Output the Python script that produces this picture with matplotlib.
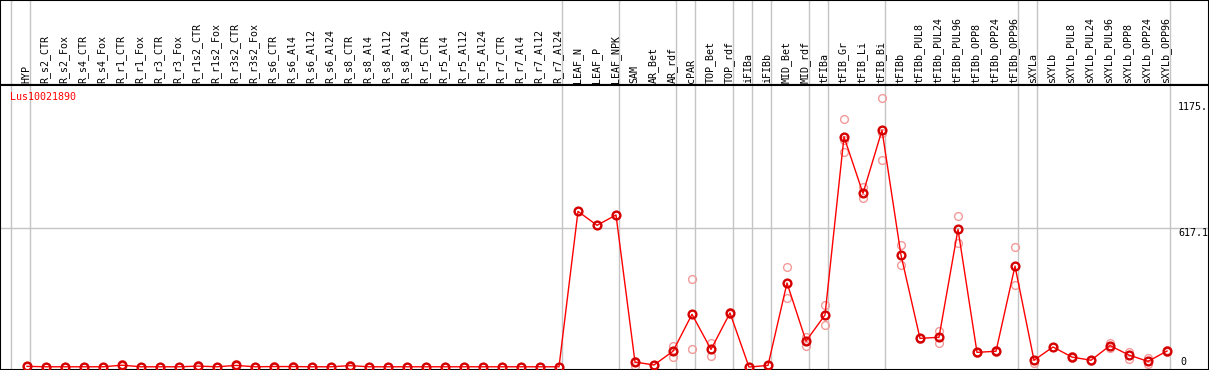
import numpy as np
import matplotlib
matplotlib.use("Agg")
import matplotlib.pyplot as plt
import matplotlib.transforms as mtransforms

plt.rcParams['font.family'] = ['DejaVu Sans Mono']

# samples (x axis, top labels)
samples = [
    "HYP",
    "R_s2_CTR", "R_s2_Fox", "R_s4_CTR", "R_s4_Fox",
    "R_r1_CTR", "R_r1_Fox", "R_r3_CTR", "R_r3_Fox",
    "R_r1s2_CTR", "R_r1s2_Fox", "R_r3s2_CTR", "R_r3s2_Fox",
    "R_s6_CTR", "R_s6_Al4", "R_s6_Al12", "R_s6_Al24",
    "R_s8_CTR", "R_s8_Al4", "R_s8_Al12", "R_s8_Al24",
    "R_r5_CTR", "R_r5_Al4", "R_r5_Al12", "R_r5_Al24",
    "R_r7_CTR", "R_r7_Al4", "R_r7_Al12", "R_r7_Al24",
    "LEAF_N", "LEAF_P", "LEAF_NPK",
    "SAM", "AR_Bet", "AR_rdf", "cPAR", "TOP_Bet", "TOP_rdf",
    "iFIBa", "iFIBb", "MID_Bet", "MID_rdf", "tFIBa",
    "tFIB_Gr", "tFIB_Li", "tFIB_Bi", "tFIBb",
    "tFIBb_PUL8", "tFIBb_PUL24", "tFIBb_PUL96",
    "tFIBb_OPP8", "tFIBb_OPP24", "tFIBb_OPP96",
    "sXYLa", "sXYLb",
    "sXYLb_PUL8", "sXYLb_PUL24", "sXYLb_PUL96",
    "sXYLb_OPP8", "sXYLb_OPP24", "sXYLb_OPP96",
]

# mean expression (red line)
means = [
    3, 1, 1, 1, 1, 8, 1, 1, 1, 4, 1, 7, 1,
    2, 2, 1, 1, 6, 1, 1, 1, 1, 1, 1, 1, 1, 1, 1, 1,
    691, 629, 675,
    22, 9, 70, 234, 78, 240,
    0, 7, 373, 115, 231,
    1022, 771, 1051, 497,
    127, 132, 611,
    65, 70, 448,
    30, 89,
    44, 30, 95,
    53, 25, 71,
]

# replicate values (pink circles)
reps = [
    [5, 1], [2, 0], [1, 0], [1, 0], [1, 0], [14, 3], [1, 0], [1, 0], [1, 0],
    [8, 1], [1, 0], [12, 3], [1, 0],
    [3, 1], [3, 1], [1, 0], [1, 0], [10, 2], [1, 0], [1, 0], [1, 0],
    [1, 0], [1, 0], [1, 0], [1, 0], [1, 0], [1, 0], [1, 0], [1, 0],
    [691], [629], [675],
    [25, 5], [9, 9], [95, 46], [391, 78], [105, 50], [245, 235],
    [0, 0], [10, 4], [443, 305], [135, 95], [275, 188],
    [1100, 953, 1010], [798, 749], [1193, 918, 1040], [542, 451],
    [130, 125], [161, 105], [669, 549],
    [68, 62], [74, 66], [531, 364],
    [30, 16], [89, 89],
    [48, 40], [32, 28], [105, 83],
    [68, 34], [40, 13], [74, 68],
]

# last sample index of each group (gray separators)
group_ends = [-1, 0, 28, 31, 34, 35, 37, 38, 39, 41, 42, 45, 52, 53, 60]

gene = "Lus10021890"
y_ticks = [0, 617.1, 1175]
y_tick_labels = ["0", "617.1", "1175."]

W, H = 1209, 370
top_h = 85
fig = plt.figure(figsize=(W / 100, H / 100), dpi=100)
ax_lab = fig.add_axes([0, (H - top_h) / H, 1, top_h / H])
ax = fig.add_axes([0, 0, 1, (H - top_h) / H], sharex=ax_lab)

x = np.arange(len(samples))
x0, step = 27, 19
ax.set_xlim(-x0 / step, (W - x0) / step)
ax.set_ylim(-13.3, 1252)
ax_lab.set_ylim(0, 1)

grey = '#c4c4c4'
for a in (ax, ax_lab):
    for g in group_ends:
        a.axvline(g + 0.18, color=grey, lw=1, zorder=0)
    a.set_xticks([])
    a.set_yticks([])
    for s in a.spines.values():
        s.set_color('black')
        s.set_linewidth(1.5)

ax.axhline(y_ticks[1], color=grey, lw=1, zorder=0)

# labels on top
for i, name in enumerate(samples):
    ax_lab.text(i - 0.05, 0.025, name, rotation=90, ha='center', va='bottom',
                fontsize=7.2, color='black')

# replicates
for i, r in enumerate(reps):
    ax.plot([i] * len(r), r, 'o', ms=5.6, mfc='none', mec='#f29a9a', mew=1.0,
            zorder=2, clip_on=False)

ax.plot(x, means, '-', color='red', lw=1, zorder=3)
ax.plot(x, means, 'o', ms=5.6, mfc='none', mec='#d40000', mew=1.7, zorder=4,
        clip_on=False)

trans = mtransforms.blended_transform_factory(ax.transAxes, ax.transData)
ax.text(1178 / W, y_ticks[2], y_tick_labels[2], transform=trans, ha='left',
        va='top', fontsize=7.2)
ax.text(1178 / W, y_ticks[1], y_tick_labels[1], transform=trans, ha='left',
        va='top', fontsize=7.2)
ax.text(1180 / W, y_ticks[0], y_tick_labels[0], transform=trans, ha='left',
        va='bottom', fontsize=7.2)

ax.text(10 / W, 1 - 12 / (H - top_h), gene, transform=ax.transAxes,
        ha='left', va='center', fontsize=7.2, color='red')

fig.savefig("out.png", dpi=100)
